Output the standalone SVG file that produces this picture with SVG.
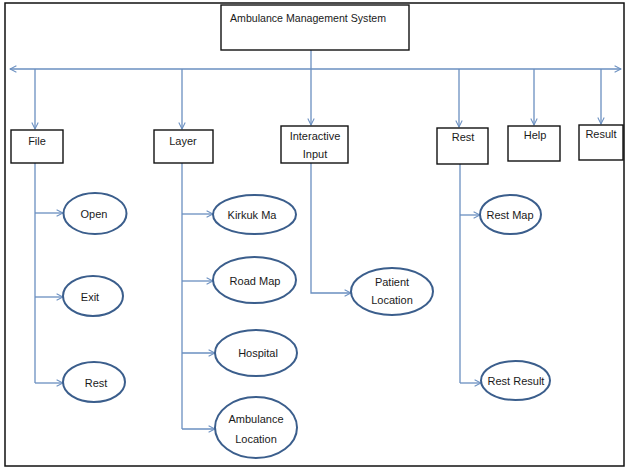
<svg xmlns="http://www.w3.org/2000/svg" width="628" height="472" viewBox="0 0 628 472">
<style>
text{font-family:"Liberation Sans",Arial,sans-serif;font-size:11px;fill:#1a1a1a}
.c{text-anchor:middle}
.box{fill:#fff;stroke:#111;stroke-width:1.4}
.ell{fill:#fff;stroke:#3b5e8c;stroke-width:2}
.ln{fill:none;stroke:#6a8fc0;stroke-width:1.3}
</style>
<defs>
<marker id="ah" viewBox="0 0 10 10" refX="9" refY="5" markerWidth="8" markerHeight="8" markerUnits="userSpaceOnUse" orient="auto">
<path d="M1,1 L9,5 L1,9" fill="none" stroke="#6a8fc0" stroke-width="1.3"/>
</marker>
</defs>
<rect x="5" y="3" width="619" height="463" fill="#fff" stroke="#111" stroke-width="1.5"/>
<g id="connectors">
<line class="ln" x1="311" y1="50" x2="311" y2="69"/>
<line class="ln" x1="311" y1="69" x2="10" y2="69" marker-end="url(#ah)"/>
<line class="ln" x1="311" y1="69" x2="621" y2="69" marker-end="url(#ah)"/>
<line class="ln" x1="35" y1="69" x2="35" y2="129" marker-end="url(#ah)"/>
<line class="ln" x1="182" y1="69" x2="182" y2="129" marker-end="url(#ah)"/>
<line class="ln" x1="311" y1="69" x2="311" y2="125" marker-end="url(#ah)"/>
<line class="ln" x1="459" y1="69" x2="459" y2="127" marker-end="url(#ah)"/>
<line class="ln" x1="534" y1="69" x2="534" y2="125" marker-end="url(#ah)"/>
<line class="ln" x1="601" y1="69" x2="601" y2="124" marker-end="url(#ah)"/>
<line class="ln" x1="35" y1="163" x2="35" y2="383"/>
<line class="ln" x1="35" y1="213" x2="63" y2="213" marker-end="url(#ah)"/>
<line class="ln" x1="35" y1="297" x2="63" y2="297" marker-end="url(#ah)"/>
<line class="ln" x1="35" y1="383" x2="63" y2="383" marker-end="url(#ah)"/>
<line class="ln" x1="182" y1="163" x2="182" y2="429"/>
<line class="ln" x1="182" y1="214" x2="213" y2="214" marker-end="url(#ah)"/>
<line class="ln" x1="182" y1="281" x2="213" y2="281" marker-end="url(#ah)"/>
<line class="ln" x1="182" y1="353" x2="215" y2="353" marker-end="url(#ah)"/>
<line class="ln" x1="182" y1="429" x2="215" y2="429" marker-end="url(#ah)"/>
<polyline class="ln" points="311,163 311,293 351,293" marker-end="url(#ah)"/>
<line class="ln" x1="460" y1="164" x2="460" y2="383"/>
<line class="ln" x1="460" y1="215" x2="480" y2="215" marker-end="url(#ah)"/>
<line class="ln" x1="460" y1="383" x2="481" y2="383" marker-end="url(#ah)"/>
</g>
<g id="ams"><rect class="box" x="221" y="5" width="188" height="45"/><text x="230" y="22" style="font-size:10.6px">Ambulance Management System</text></g>
<g id="file"><rect class="box" x="11" y="130" width="52" height="33"/><text class="c" x="37" y="145">File</text></g>
<g id="layer"><rect class="box" x="154" y="130" width="59" height="33"/><text class="c" x="183" y="145">Layer</text></g>
<g id="interactive"><rect class="box" x="281" y="126" width="67" height="37"/><text class="c" x="315" y="140">Interactive</text><text class="c" x="315" y="158">Input</text></g>
<g id="rest"><rect class="box" x="437" y="128" width="51" height="36"/><text class="c" x="463" y="141">Rest</text></g>
<g id="help"><rect class="box" x="508" y="126" width="52" height="35"/><text class="c" x="535" y="139">Help</text></g>
<g id="result"><rect class="box" x="579" y="125" width="44" height="35"/><text class="c" x="601" y="138">Result</text></g>
<g id="open"><ellipse class="ell" cx="95" cy="213.5" rx="31.5" ry="20.5"/><text class="c" x="94" y="217.5">Open</text></g>
<g id="exit"><ellipse class="ell" cx="93" cy="296" rx="30" ry="20"/><text class="c" x="90" y="301">Exit</text></g>
<g id="filerest"><ellipse class="ell" cx="94" cy="382" rx="31" ry="20"/><text class="c" x="96" y="387">Rest</text></g>
<g id="kirkuk"><ellipse class="ell" cx="254.5" cy="214.5" rx="41.5" ry="19.5"/><text class="c" x="252" y="218.5">Kirkuk  Ma</text></g>
<g id="roadmap"><ellipse class="ell" cx="254.5" cy="280" rx="41.5" ry="23"/><text class="c" x="255" y="285">Road Map</text></g>
<g id="hospital"><ellipse class="ell" cx="256" cy="353" rx="41" ry="23"/><text class="c" x="258" y="357">Hospital</text></g>
<g id="ambloc"><ellipse class="ell" cx="256" cy="427.5" rx="41" ry="30.5"/><text class="c" x="256" y="423">Ambulance</text><text class="c" x="256" y="443">Location</text></g>
<g id="patient"><ellipse class="ell" cx="392" cy="291.5" rx="41" ry="23.5"/><text class="c" x="392" y="286">Patient</text><text class="c" x="392" y="304">Location</text></g>
<g id="restmap"><ellipse class="ell" cx="510.5" cy="214.5" rx="30.5" ry="19.5"/><text class="c" x="510" y="219">Rest Map</text></g>
<g id="restresult"><ellipse class="ell" cx="515.5" cy="380.5" rx="34.5" ry="19.5"/><text class="c" x="516" y="385">Rest Result</text></g>
</svg>
